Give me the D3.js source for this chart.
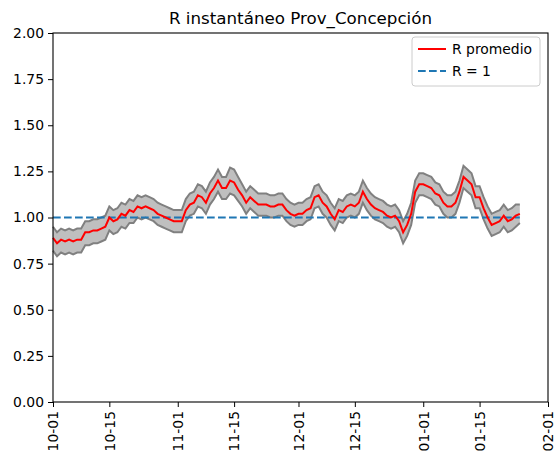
<!DOCTYPE html>
<html lang="en">
<head>
<meta charset="UTF-8">
<title>R instantáneo</title>
<style>
    body{ margin:0; background:#fff; }
    svg{ font-family: "DejaVu Sans", sans-serif; }
</style>
<script src="https://cdn.jsdelivr.net/npm/d3@7"></script>
</head>
<body>
<script>
    const width = 555, height = 453
    const margin = {top: 33, right: 7, bottom: 51, left: 53}

    // daily series starting 2020-10-01
    const startDate = "2020-10-01"
    const rMean = [0.89,0.86,0.88,0.87,0.88,0.87,0.88,0.88,0.92,0.92,
        0.93,0.93,0.94,0.95,1.00,0.98,0.99,1.02,1.01,1.04,
        1.03,1.06,1.05,1.06,1.05,1.04,1.02,1.01,1.00,0.99,
        0.98,0.98,0.98,1.04,1.07,1.08,1.12,1.11,1.08,1.13,
        1.16,1.20,1.16,1.16,1.20,1.19,1.15,1.12,1.08,1.11,
        1.09,1.07,1.07,1.07,1.06,1.06,1.07,1.07,1.04,1.02,
        1.01,1.02,1.02,1.04,1.05,1.11,1.12,1.08,1.06,1.02,
        0.99,1.04,1.03,1.06,1.07,1.06,1.08,1.14,1.10,1.07,
        1.05,1.04,1.03,1.01,1.00,1.01,0.98,0.92,0.96,1.02,
        1.14,1.18,1.18,1.17,1.16,1.13,1.12,1.08,1.06,1.06,
        1.08,1.14,1.22,1.20,1.18,1.11,1.11,1.05,1.00,0.96,
        0.97,0.98,1.01,0.98,0.99,1.01,1.02]
    const rHigh = [0.95,0.92,0.94,0.93,0.94,0.93,0.94,0.94,0.98,0.98,
        0.99,0.99,1.00,1.01,1.06,1.04,1.05,1.08,1.07,1.10,
        1.09,1.12,1.11,1.12,1.11,1.10,1.08,1.07,1.06,1.05,
        1.04,1.04,1.04,1.10,1.13,1.14,1.18,1.17,1.14,1.19,
        1.22,1.26,1.22,1.22,1.27,1.26,1.22,1.18,1.14,1.17,
        1.15,1.13,1.13,1.13,1.12,1.12,1.13,1.13,1.10,1.08,
        1.07,1.08,1.08,1.10,1.11,1.17,1.18,1.14,1.12,1.08,
        1.05,1.10,1.09,1.12,1.13,1.12,1.14,1.20,1.16,1.13,
        1.11,1.10,1.09,1.07,1.06,1.07,1.04,0.98,1.02,1.08,
        1.20,1.24,1.24,1.23,1.22,1.19,1.18,1.14,1.12,1.12,
        1.14,1.20,1.28,1.26,1.24,1.17,1.17,1.11,1.06,1.02,
        1.03,1.04,1.07,1.04,1.05,1.07,1.07]
    const rLow = [0.82,0.79,0.81,0.80,0.81,0.80,0.81,0.81,0.85,0.85,
        0.86,0.86,0.87,0.88,0.93,0.91,0.92,0.95,0.94,0.97,
        0.97,1.00,0.99,1.00,0.99,0.98,0.96,0.95,0.94,0.93,
        0.92,0.92,0.92,0.98,1.01,1.02,1.06,1.05,1.02,1.07,
        1.10,1.14,1.10,1.10,1.13,1.12,1.09,1.06,1.02,1.05,
        1.03,1.01,1.01,1.01,1.00,1.00,1.01,1.01,0.98,0.96,
        0.95,0.96,0.96,0.98,0.99,1.05,1.06,1.02,1.00,0.96,
        0.93,0.98,0.97,1.00,1.01,1.00,1.02,1.08,1.04,1.01,
        0.99,0.98,0.97,0.95,0.94,0.95,0.92,0.86,0.90,0.96,
        1.08,1.12,1.12,1.11,1.10,1.07,1.06,1.02,1.00,1.00,
        1.02,1.08,1.16,1.14,1.12,1.05,1.05,0.99,0.94,0.90,
        0.91,0.92,0.95,0.92,0.93,0.95,0.97]

    const xTicks = ["2020-10-01","2020-10-15","2020-11-01","2020-11-15","2020-12-01",
        "2020-12-15","2021-01-01","2021-01-15","2021-02-01"]
    const yTicks = [0,0.25,0.5,0.75,1,1.25,1.5,1.75,2]

    const parse = d3.timeParse("%Y-%m-%d")
    const t0 = parse(startDate)
    const data = rMean.map((v,i)=>({
        date: d3.timeDay.offset(t0, i), m: v, hi: rHigh[i], lo: rLow[i]
    }))

    let svg = d3.select("body").append("svg")
        .attr("width", width).attr("height", height)

    let x = d3.scaleTime()
        .domain([parse(xTicks[0]), parse(xTicks[xTicks.length-1])])
        .range([margin.left, width - margin.right])
    let y = d3.scaleLinear().domain([0,2]).range([height - margin.bottom, margin.top])

    // band
    svg.append("path").datum(data)
        .attr("fill", "#808080").attr("fill-opacity", 0.5)
        .attr("d", d3.area().x(d=>x(d.date)).y0(d=>y(d.lo)).y1(d=>y(d.hi)))
    const edge = (k)=> d3.line().x(d=>x(d.date)).y(d=>y(d[k]))
    svg.append("path").datum(data).attr("fill","none").attr("stroke","#808080")
        .attr("stroke-width",2).attr("d", edge("hi"))
    svg.append("path").datum(data).attr("fill","none").attr("stroke","#808080")
        .attr("stroke-width",2).attr("d", edge("lo"))

    // R = 1
    svg.append("line")
        .attr("x1", x(data[0].date)).attr("x2", x(data[data.length-1].date))
        .attr("y1", y(1)).attr("y2", y(1))
        .attr("stroke","#1f77b4").attr("stroke-width",2).attr("stroke-dasharray","7.7,3.3")

    // mean
    svg.append("path").datum(data).attr("fill","none").attr("stroke","#ff0000")
        .attr("stroke-width",2).attr("d", edge("m"))

    // frame
    svg.append("rect").attr("x", margin.left).attr("y", margin.top)
        .attr("width", width - margin.left - margin.right)
        .attr("height", height - margin.top - margin.bottom)
        .attr("fill","none").attr("stroke","#000").attr("stroke-width",1.1)

    // axes
    let yAxis = svg.append("g").attr("transform", `translate(${margin.left},0)`)
        .call(d3.axisLeft(y).tickValues(yTicks).tickFormat(d3.format(".2f")).tickSize(5).tickPadding(4))
    let xAxis = svg.append("g").attr("transform", `translate(0,${height - margin.bottom})`)
        .call(d3.axisBottom(x).tickValues(xTicks.map(parse)).tickFormat(d3.timeFormat("%m-%d")).tickSize(5))
    xAxis.selectAll("text")
        .attr("transform","rotate(-90)")
        .attr("text-anchor","end")
        .attr("x",-9).attr("y",0).attr("dy","0.35em")
    ;[xAxis, yAxis].forEach(a=>{
        a.select(".domain").remove()
        a.selectAll("text").attr("font-size",13.9).attr("fill","#000")
            .attr("font-family",'"DejaVu Sans", sans-serif')
        a.selectAll("line").attr("stroke","#000")
    })

    // title
    svg.append("text").attr("x", (margin.left + width - margin.right)/2).attr("y", 24)
        .attr("text-anchor","middle").attr("font-size",16.7).text("R instantáneo Prov_Concepción")

    // legend
    let lg = svg.append("g").attr("transform","translate(412,37)")
    lg.append("rect").attr("width",128).attr("height",49).attr("rx",3)
        .attr("fill","#fff").attr("fill-opacity",0.8).attr("stroke","#ccc")
    lg.append("line").attr("x1",6).attr("x2",34).attr("y1",12).attr("y2",12)
        .attr("stroke","#ff0000").attr("stroke-width",2)
    lg.append("line").attr("x1",6).attr("x2",34).attr("y1",34).attr("y2",34)
        .attr("stroke","#1f77b4").attr("stroke-width",2).attr("stroke-dasharray","7.7,3.3")
    lg.append("text").attr("x",40).attr("y",17).attr("font-size",13.9).text("R promedio")
    lg.append("text").attr("x",40).attr("y",39).attr("font-size",13.9).text("R = 1")
</script>
</body>
</html>
